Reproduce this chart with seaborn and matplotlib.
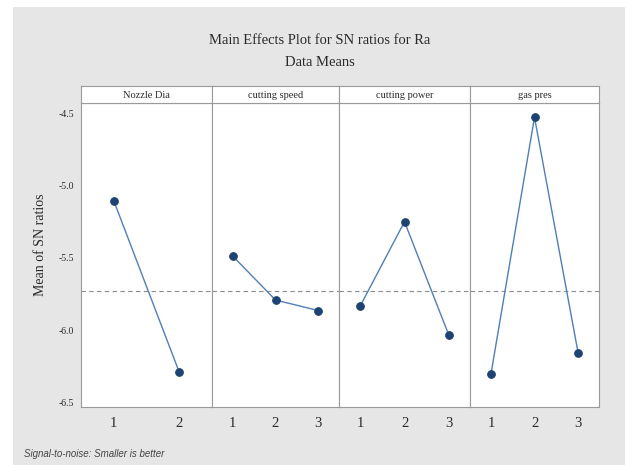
import matplotlib
matplotlib.use("Agg")
import matplotlib.pyplot as plt
import seaborn as sns
import pandas as pd
from matplotlib.patches import Rectangle

# data
factors = ["Nozzle Dia", "cutting speed", "cutting power", "gas pres"]
levels = [[1, 2], [1, 2, 3], [1, 2, 3], [1, 2, 3]]
sn_means = [[-5.105, -6.288],
            [-5.486, -5.790, -5.863],
            [-5.831, -5.250, -6.031],
            [-6.302, -4.530, -6.153]]
grand_mean = -5.73
yticks = [-4.5, -5.0, -5.5, -6.0, -6.5]

rows = []
for f, lv, vals in zip(factors, levels, sn_means):
    for l, v in zip(lv, vals):
        rows.append({"factor": f, "level": l, "sn": v})
df = pd.DataFrame(rows)

sns.set_style("white")
plt.rcParams['font.family'] = ['Liberation Serif', 'DejaVu Serif']
plt.rcParams['axes.unicode_minus'] = False

W, H = 629, 465
fig = plt.figure(figsize=(W / 100, H / 100), dpi=100)
fig.patch.set_facecolor("white")
fig.patches.append(Rectangle((13 / W, 0), (625 - 13) / W, (465 - 7) / H,
                             transform=fig.transFigure, facecolor="#e6e6e6",
                             edgecolor="none", zorder=-10))

lefts = [81, 212, 339, 470]
rights = [212, 339, 470, 599]
top, bottom, strip_top = 103, 407, 86
ylim = (-6.528, -4.431)
line_col = "#4f7fb8"
mark_col = "#1d4373"
edge_col = "#9a9a9a"

for i, f in enumerate(factors):
    l, r = lefts[i], rights[i]
    ax = fig.add_axes([l / W, 1 - bottom / H, (r - l) / W, (bottom - top) / H])
    sub = df[df["factor"] == f]
    ax.axhline(grand_mean, color="#8c8c8c", lw=0.8, ls=(0, (4, 3)), zorder=1)
    sns.lineplot(data=sub, x="level", y="sn", ax=ax, color=line_col, lw=1,
                 marker="o", markersize=5.5, markerfacecolor=mark_col,
                 markeredgecolor=mark_col, zorder=3)
    ax.set_ylim(*ylim)
    if len(levels[i]) == 2:
        ax.set_xlim(0.5, 2.5)
    else:
        ax.set_xlim(0.52, 3.48)
    ax.set_xticks(levels[i])
    ax.set_xticklabels([str(v) for v in levels[i]], fontsize=10.5, color="#2a2a2a")
    ax.tick_params(axis="x", length=3, direction="out", color=edge_col, pad=4)
    if i == 0:
        ax.set_yticks(yticks)
        ax.set_yticklabels([f"{v:.1f}" for v in yticks], fontsize=7, color="#2a2a2a")
        ax.tick_params(axis="y", length=3, direction="out", color=edge_col, pad=2)
    else:
        ax.set_yticks([])
    ax.set_xlabel("")
    ax.set_ylabel("")
    ax.set_facecolor("white")
    for s in ax.spines.values():
        s.set_color(edge_col)
        s.set_linewidth(0.8)

    sax = fig.add_axes([l / W, 1 - top / H, (r - l) / W, (top - strip_top) / H])
    sax.set_facecolor("white")
    sax.set_xticks([])
    sax.set_yticks([])
    for s in sax.spines.values():
        s.set_color(edge_col)
        s.set_linewidth(0.8)
    sax.text(0.5, 0.45, f, ha="center", va="center", fontsize=7.5,
             color="#2a2a2a", transform=sax.transAxes)

fig.text(320 / W, 1 - 41 / H, "Main Effects Plot for SN ratios for Ra",
         ha="center", va="center", fontsize=10.5, color="#2a2a2a")
fig.text(320 / W, 1 - 63 / H, "Data Means", ha="center", va="center",
         fontsize=10.5, color="#2a2a2a")
fig.text(40 / W, 1 - 245 / H, "Mean of SN ratios", ha="center", va="center",
         rotation=90, fontsize=10, color="#2a2a2a")
fig.text(24 / W, 1 - 454 / H, "Signal-to-noise: Smaller is better", ha="left",
         va="center", fontsize=7, style="italic", color="#444444",
         family=["Liberation Sans", "DejaVu Sans"])

fig.savefig("out.png", dpi=100)
